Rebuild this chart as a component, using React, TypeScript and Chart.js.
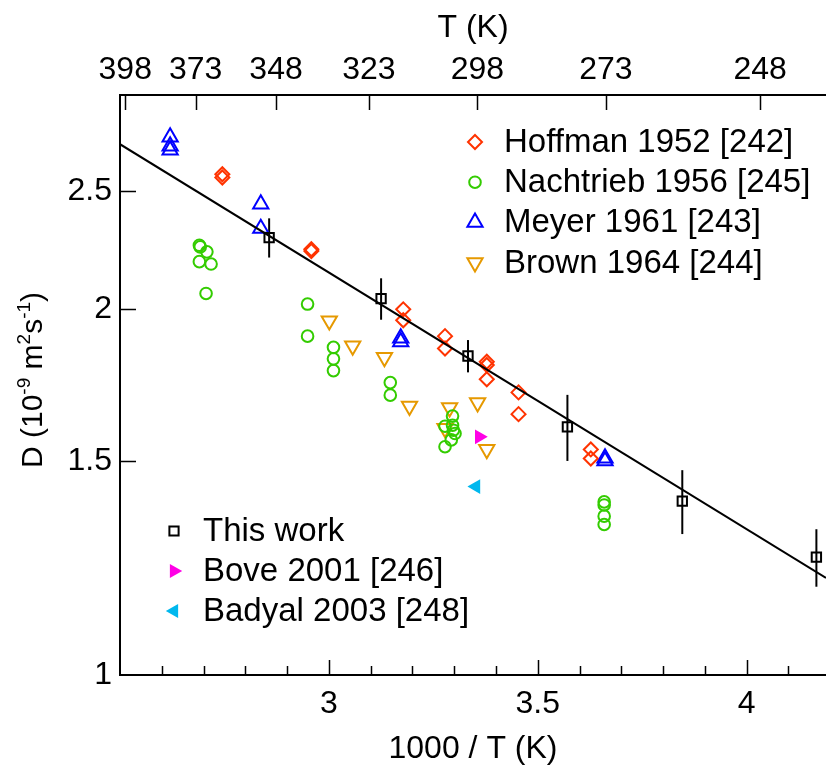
import React, { useEffect, useRef } from 'react';
import { Chart, registerables } from 'chart.js';

Chart.register(...registerables);

const FONT = "'Liberation Sans', Arial, Helvetica, sans-serif";

// ---------- axis definitions ----------
const xRange = [2.5, 4.19];
const yRange = [1, 3.0];
const bottomMajorTicks = [3, 3.5, 4];
const bottomMinorTicks = [2.6, 2.7, 2.8, 2.9, 3.1, 3.2, 3.3, 3.4, 3.6, 3.7, 3.8, 3.9, 4.1];
const leftTicks = [1, 1.5, 2, 2.5];
const topTempTicks = [398, 373, 348, 323, 298, 273, 248];

// ---------- data (x = 1000/T, D in 1e-9 m^2/s) ----------
const thisWorkX = [2.857, 3.125, 3.333, 3.571, 3.846, 4.167];
const thisWorkD = [2.29, 2.04, 1.83, 1.6, 1.39, 1.25];
const thisWorkErr = [0.085, 0.08, 0.056, 0.1, 0.084, 0.068];

const hoffmanX = [2.745, 2.745, 2.958, 2.958, 3.178, 3.178, 3.278, 3.278, 3.378, 3.378, 3.378, 3.454, 3.454, 3.627, 3.627];
const hoffmanD = [2.582, 2.566, 2.24, 2.232, 1.999, 1.958, 1.9, 1.856, 1.81, 1.799, 1.751, 1.708, 1.639, 1.533, 1.507];

const nachtriebX = [2.69, 2.692, 2.708, 2.69, 2.718, 2.706, 2.949, 2.949, 3.011, 3.011, 3.011, 3.147, 3.147, 3.296, 3.278, 3.296, 3.298, 3.302, 3.293, 3.278, 3.659, 3.659, 3.659, 3.659];
const nachtriebD = [2.257, 2.25, 2.229, 2.188, 2.178, 2.06, 2.019, 1.9, 1.86, 1.82, 1.78, 1.74, 1.699, 1.633, 1.602, 1.605, 1.59, 1.58, 1.561, 1.541, 1.388, 1.38, 1.351, 1.33];

const meyerX = [2.62, 2.62, 2.62, 2.837, 2.837, 3.172, 3.172, 3.661, 3.661];
const meyerD = [2.77, 2.723, 2.703, 2.44, 2.33, 1.893, 1.88, 1.508, 1.5];

const brownX = [3.001, 3.057, 3.133, 3.193, 3.289, 3.278, 3.356, 3.378];
const brownD = [1.956, 1.865, 1.825, 1.664, 1.659, 1.595, 1.675, 1.533];

const boveX = [3.36];
const boveD = [1.57];

const badyalX = [3.352];
const badyalD = [1.429];

const fitX = [2.5, 4.19];
const fitD = [2.733, 1.202];

// ---------- styles ----------
const RED = '#ff3300';
const GREEN = '#33cc00';
const BLUE = '#0000ff';
const ORANGE = '#e69900';
const MAGENTA = '#ff00e6';
const CYAN = '#00b8ee';

const topLegend = [
  { label: 'Hoffman 1952 [242]', shape: 'diamond', color: RED, filled: false },
  { label: 'Nachtrieb 1956 [245]', shape: 'circle', color: GREEN, filled: false },
  { label: 'Meyer 1961 [243]', shape: 'up', color: BLUE, filled: false },
  { label: 'Brown 1964 [244]', shape: 'down', color: ORANGE, filled: false },
];
const bottomLegend = [
  { label: 'This work', shape: 'square', color: '#000', filled: false },
  { label: 'Bove 2001 [246]', shape: 'right', color: MAGENTA, filled: true },
  { label: 'Badyal 2003 [248]', shape: 'left', color: CYAN, filled: true },
];

const pts = (xs: number[], ys: number[]) => xs.map((x, i) => ({ x, y: ys[i] }));

function drawMarker(ctx: CanvasRenderingContext2D, shape: string, x: number, y: number, r: number, color: string, filled: boolean) {
  ctx.save();
  ctx.beginPath();
  const s = 0.866;
  switch (shape) {
    case 'diamond':
      ctx.moveTo(x, y - r); ctx.lineTo(x + r, y); ctx.lineTo(x, y + r); ctx.lineTo(x - r, y); ctx.closePath();
      break;
    case 'circle':
      ctx.arc(x, y, r, 0, Math.PI * 2);
      break;
    case 'square':
      ctx.rect(x - r, y - r, 2 * r, 2 * r);
      break;
    case 'up':
      ctx.moveTo(x, y - r); ctx.lineTo(x + r * s, y + r / 2); ctx.lineTo(x - r * s, y + r / 2); ctx.closePath();
      break;
    case 'down':
      ctx.moveTo(x, y + r); ctx.lineTo(x + r * s, y - r / 2); ctx.lineTo(x - r * s, y - r / 2); ctx.closePath();
      break;
    case 'right':
      ctx.moveTo(x + r, y); ctx.lineTo(x - r / 2, y - r * s); ctx.lineTo(x - r / 2, y + r * s); ctx.closePath();
      break;
    case 'left':
      ctx.moveTo(x - r, y); ctx.lineTo(x + r / 2, y - r * s); ctx.lineTo(x + r / 2, y + r * s); ctx.closePath();
      break;
  }
  if (filled) {
    ctx.fillStyle = color;
    ctx.fill();
  } else {
    ctx.strokeStyle = color;
    ctx.lineWidth = 2;
    ctx.stroke();
  }
  ctx.restore();
}

const legendSizes: Record<string, number> = { diamond: 7, circle: 5.8, up: 8.8, down: 8.8, square: 4.6, right: 8.2, left: 8.2 };

const framePlugin = {
  id: 'frame',
  beforeDatasetsDraw(chart: any) {
    // error bars for "This work"
    const { ctx, scales } = chart;
    const xs = scales.x, ys = scales.y;
    ctx.save();
    ctx.strokeStyle = '#000';
    ctx.lineWidth = 2;
    thisWorkX.forEach((xv, i) => {
      const px = xs.getPixelForValue(xv);
      ctx.beginPath();
      ctx.moveTo(px, ys.getPixelForValue(thisWorkD[i] + thisWorkErr[i]));
      ctx.lineTo(px, ys.getPixelForValue(thisWorkD[i] - thisWorkErr[i]));
      ctx.stroke();
    });
    ctx.restore();
  },
  afterDraw(chart: any) {
    const { ctx, chartArea: a, scales } = chart;
    const xs = scales.x, ys = scales.y;
    ctx.save();
    ctx.strokeStyle = '#000';
    ctx.lineWidth = 2;
    ctx.beginPath();
    ctx.moveTo(a.right + 2, a.top); ctx.lineTo(a.left, a.top); ctx.lineTo(a.left, a.bottom); ctx.lineTo(a.right + 2, a.bottom);
    ctx.stroke();

    ctx.lineWidth = 1.5;
    ctx.beginPath();
    bottomMajorTicks.forEach((v) => {
      const px = Math.round(xs.getPixelForValue(v)) + 0.5;
      ctx.moveTo(px, a.bottom); ctx.lineTo(px, a.bottom - 15);
    });
    bottomMinorTicks.forEach((v) => {
      const px = Math.round(xs.getPixelForValue(v)) + 0.5;
      ctx.moveTo(px, a.bottom); ctx.lineTo(px, a.bottom - 9);
    });
    topTempTicks.forEach((t) => {
      const px = Math.round(xs.getPixelForValue(1000 / t)) + 0.5;
      ctx.moveTo(px, a.top); ctx.lineTo(px, a.top + 15);
    });
    leftTicks.slice(1).forEach((v) => {
      const py = Math.round(ys.getPixelForValue(v)) + 0.5;
      ctx.moveTo(a.left, py); ctx.lineTo(a.left + 16, py);
    });
    ctx.stroke();

    // y-axis title with superscripts
    const segs = [
      { t: 'D (10', sup: false },
      { t: '-9', sup: true },
      { t: ' m', sup: false },
      { t: '2', sup: true },
      { t: 's', sup: false },
      { t: '-1', sup: true },
      { t: ')', sup: false },
    ];
    const big = `30px ${FONT}`;
    const small = `19px ${FONT}`;
    let total = 0;
    segs.forEach((s) => { ctx.font = s.sup ? small : big; total += ctx.measureText(s.t).width; });
    ctx.translate(42, (a.top + a.bottom) / 2 - 5);
    ctx.rotate(-Math.PI / 2);
    ctx.fillStyle = '#000';
    ctx.textBaseline = 'alphabetic';
    ctx.textAlign = 'left';
    let cx = -total / 2;
    segs.forEach((s) => {
      ctx.font = s.sup ? small : big;
      ctx.fillText(s.t, cx, s.sup ? -12 : 0);
      cx += ctx.measureText(s.t).width;
    });
    ctx.restore();

    // legends
    ctx.save();
    ctx.font = `33px ${FONT}`;
    ctx.fillStyle = '#000';
    ctx.textBaseline = 'middle';
    ctx.textAlign = 'left';
    topLegend.forEach((e, i) => {
      const y = 142 + i * 40.2;
      drawMarker(ctx, e.shape, 475, y, legendSizes[e.shape], e.color, e.filled);
      ctx.fillText(e.label, 504, y + 1);
    });
    bottomLegend.forEach((e, i) => {
      const y = 531 + i * 40;
      drawMarker(ctx, e.shape, 174, y, legendSizes[e.shape], e.color, e.filled);
      ctx.fillText(e.label, 203, y + 1);
    });
    ctx.restore();
  },
};

export default function App() {
  const ref = useRef<HTMLCanvasElement | null>(null);
  useEffect(() => {
    if (!ref.current) return;
    const hollow = 'rgba(0,0,0,0)';
    const chart = new Chart(ref.current, {
      type: 'scatter',
      data: {
        datasets: [
          {
            label: 'This work', data: pts(thisWorkX, thisWorkD), pointStyle: 'rect', pointRadius: 6.6,
            borderColor: '#000', backgroundColor: hollow, pointBorderWidth: 2, order: 1,
          },
          {
            label: 'Hoffman 1952 [242]', data: pts(hoffmanX, hoffmanD), pointStyle: 'rectRot', pointRadius: 7,
            borderColor: RED, backgroundColor: hollow, pointBorderWidth: 2, order: 2,
          },
          {
            label: 'Nachtrieb 1956 [245]', data: pts(nachtriebX, nachtriebD), pointStyle: 'circle', pointRadius: 5.8,
            borderColor: GREEN, backgroundColor: hollow, pointBorderWidth: 2, order: 3,
          },
          {
            label: 'Meyer 1961 [243]', data: pts(meyerX, meyerD), pointStyle: 'triangle', pointRadius: 8.8,
            borderColor: BLUE, backgroundColor: hollow, pointBorderWidth: 2, order: 4,
          },
          {
            label: 'Brown 1964 [244]', data: pts(brownX, brownD), pointStyle: 'triangle', pointRotation: 180, pointRadius: 8.8,
            borderColor: ORANGE, backgroundColor: hollow, pointBorderWidth: 2, order: 5,
          },
          {
            label: 'Bove 2001 [246]', data: pts(boveX, boveD), pointStyle: 'triangle', pointRotation: 90, pointRadius: 8.5,
            borderColor: MAGENTA, backgroundColor: MAGENTA, pointBorderWidth: 0, order: 6,
          },
          {
            label: 'Badyal 2003 [248]', data: pts(badyalX, badyalD), pointStyle: 'triangle', pointRotation: 270, pointRadius: 8.5,
            borderColor: CYAN, backgroundColor: CYAN, pointBorderWidth: 0, order: 7,
          },
          {
            label: 'fit', data: pts(fitX, fitD), showLine: true, pointRadius: 0,
            borderColor: '#000', borderWidth: 2, order: 0,
          } as any,
        ],
      },
      options: {
        responsive: false,
        animation: false,
        events: [],
        layout: { padding: 0, autoPadding: false },
        plugins: { legend: { display: false }, tooltip: { enabled: false } },
        scales: {
          x: {
            type: 'linear', position: 'bottom', min: xRange[0], max: xRange[1],
            afterFit: (s: any) => { s.height = 94; s.paddingLeft = 0; s.paddingRight = 0; },
            afterBuildTicks: (s: any) => { s.ticks = bottomMajorTicks.map((v) => ({ value: v })); },
            grid: { display: false, drawTicks: false },
            border: { display: false },
            ticks: {
              autoSkip: false, maxRotation: 0, minRotation: 0, padding: 10, color: '#000',
              font: { size: 32, family: FONT },
              callback: (v: any) => String(v),
            },
            title: { display: true, text: '1000 / T (K)', color: '#000', font: { size: 32, family: FONT }, padding: { top: 0, bottom: 1 } },
          },
          x2: {
            type: 'linear', position: 'top', min: xRange[0], max: xRange[1],
            afterFit: (s: any) => { s.height = 95; s.paddingLeft = 0; s.paddingRight = 0; },
            afterBuildTicks: (s: any) => { s.ticks = topTempTicks.map((t) => ({ value: 1000 / t })); },
            grid: { display: false, drawTicks: false },
            border: { display: false },
            ticks: {
              autoSkip: false, maxRotation: 0, minRotation: 0, padding: 6, color: '#000',
              font: { size: 32, family: FONT },
              callback: (_v: any, i: number) => String(topTempTicks[i]),
            },
            title: { display: true, text: 'T (K)', color: '#000', font: { size: 32, family: FONT }, padding: { top: 9, bottom: 0 } },
          },
          y: {
            type: 'logarithmic', position: 'left', min: yRange[0], max: yRange[1],
            afterFit: (s: any) => { s.width = 120; s.paddingTop = 0; s.paddingBottom = 0; },
            afterBuildTicks: (s: any) => { s.ticks = leftTicks.map((v) => ({ value: v })); },
            grid: { display: false, drawTicks: false },
            border: { display: false },
            ticks: {
              autoSkip: false, padding: 8, color: '#000',
              font: { size: 32, family: FONT },
              callback: (v: any) => String(v),
            },
          },
        },
      } as any,
      plugins: [framePlugin],
    });
    return () => chart.destroy();
  }, []);

  return (
    <div style={{ position: 'fixed', left: 0, top: 0, width: 826, height: 769, background: '#fff', overflow: 'hidden' }}>
      <canvas ref={ref} width={826} height={769} style={{ width: 826, height: 769, display: 'block' }} />
    </div>
  );
}
